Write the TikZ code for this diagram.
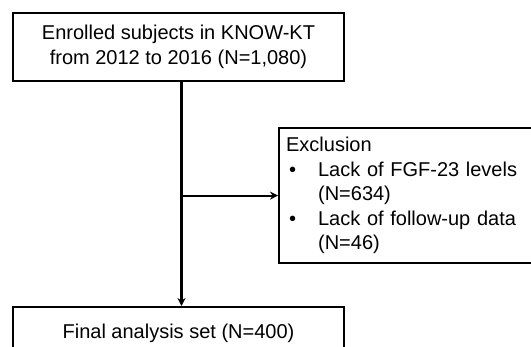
\documentclass[tikz,border=0pt]{standalone}
\usepackage{fontspec}
\setmainfont{Liberation Sans}
\usetikzlibrary{arrows.meta}
\begin{document}
\begin{tikzpicture}[x=1pt,y=1pt,>={Stealth[length=8pt,width=8pt]},
  box/.style={draw,line width=2.2pt,inner sep=0pt,font=\fontsize{20}{25}\selectfont},
  link/.style={->,line width=2.2pt}]
\useasboundingbox (0,0) rectangle (531,-346);
\clip (0,0) rectangle (531,-346);
\node[box,minimum width=331,minimum height=68,align=center](enrol) at (178.5,-47){Enrolled subjects in KNOW-KT\\from 2012 to 2016 (N=1,080)};
\node[box,minimum width=331,minimum height=52,anchor=north](final) at (178.5,-306){Final analysis set (N=400)};
\node[box,anchor=north west,minimum height=135,text width=253pt,inner xsep=7pt,align=left,
  font=\fontsize{20}{24.5}\selectfont](excl) at (278,-127){Exclusion\\
  \makebox[32pt][l]{\hspace{3pt}•}Lack of FGF-23 levels\\
  \hspace*{32pt}(N=634)\\
  \makebox[32pt][l]{\hspace{3pt}•}Lack of follow-up data\\
  \hspace*{32pt}(N=46)};
\coordinate (trunk) at ([xshift=3pt]enrol.south);
\draw[link](trunk)--(trunk |- final.north);
\draw[link](trunk |- excl.west)--(excl.west);
\end{tikzpicture}
\end{document}
